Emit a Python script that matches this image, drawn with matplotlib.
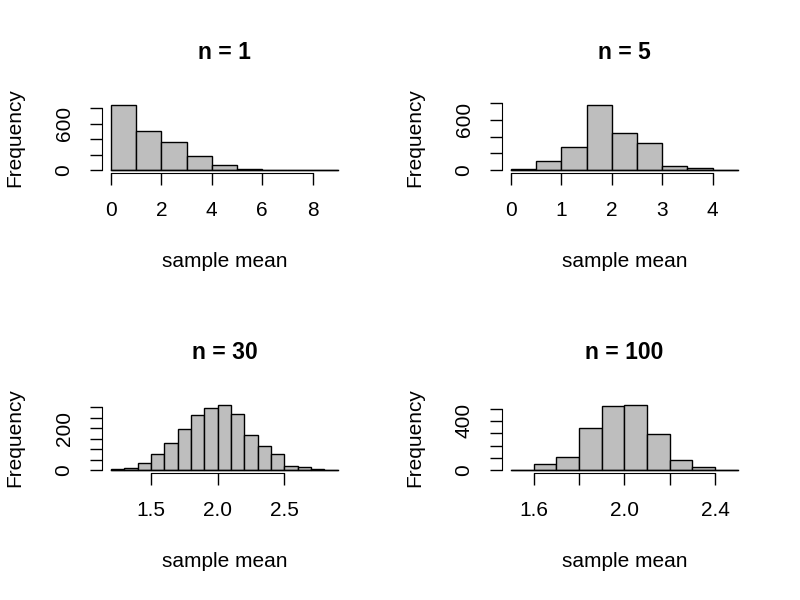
import numpy as np
import matplotlib.pyplot as plt

plt.rcParams['font.family'] = ['Liberation Sans', 'DejaVu Sans']

# bin edges and counts for each sample size
titles = ['n = 1', 'n = 5', 'n = 30', 'n = 100']

edges1 = np.arange(0, 9.01, 1.0)
counts1 = [847, 512, 366, 185, 69, 17, 8, 4, 2]

edges5 = np.arange(0, 4.51, 0.5)
counts5 = [12, 114, 276, 777, 438, 327, 51, 28, 2]

edges30 = np.round(np.arange(1.2, 2.91, 0.1), 1)
counts30 = [6, 11, 33, 79, 131, 198, 262, 297, 311, 266, 168, 117, 76, 22, 14, 5, 3]

edges100 = np.round(np.arange(1.5, 2.51, 0.1), 1)
counts100 = [5, 49, 108, 343, 524, 530, 297, 86, 30, 3]

xticks = [[0, 2, 4, 6, 8], [0, 1, 2, 3, 4], [1.5, 2.0, 2.5], [1.6, 1.8, 2.0, 2.2, 2.4]]
xlabels = [['0', '2', '4', '6', '8'], ['0', '1', '2', '3', '4'],
           ['1.5', '2.0', '2.5'], ['1.6', '', '2.0', '', '2.4']]
yticks = [[0, 200, 400, 600, 800], [0, 200, 400, 600, 800],
          [0, 50, 100, 150, 200, 250, 300], [0, 100, 200, 300, 400, 500]]
ylabels = [['0', '', '', '600', ''], ['0', '', '', '600', ''],
           ['0', '', '', '', '200', '', ''], ['0', '', '', '', '400', '']]

data = [(edges1, counts1), (edges5, counts5), (edges30, counts30), (edges100, counts100)]

fig = plt.figure(figsize=(8, 6), dpi=100)
pos = [[0.1275, 0.7117, 0.306, 0.118], [0.6275, 0.7117, 0.306, 0.118],
       [0.1275, 0.2117, 0.306, 0.118], [0.6275, 0.2117, 0.306, 0.118]]

fs = 15
for i in range(4):
    ax = fig.add_axes(pos[i])
    edges, counts = data[i]
    widths = np.diff(edges)
    ax.bar(edges[:-1], counts, width=widths, align='edge', color='#bebebe',
           edgecolor='black', linewidth=1)
    ax.plot([edges[0], edges[-1]], [0, 0], color='black', lw=1)
    rng = edges[-1] - edges[0]
    ax.set_xlim(edges[0] - 0.04 * rng, edges[-1] + 0.04 * rng)
    top = max(counts)
    ax.set_ylim(-0.04 * top, top * 1.04)
    for s in ['top', 'right']:
        ax.spines[s].set_visible(False)
    ax.spines['bottom'].set_bounds(xticks[i][0], xticks[i][-1])
    ax.spines['left'].set_bounds(yticks[i][0], yticks[i][-1])
    ax.set_xticks(xticks[i])
    ax.set_xticklabels(xlabels[i])
    ax.set_yticks(yticks[i])
    ax.set_yticklabels(ylabels[i], rotation=90, va='center')
    ax.tick_params(length=8.5, width=1, labelsize=fs)
    ax.tick_params(axis='x', pad=12)
    ax.tick_params(axis='y', pad=12)
    ax.text(0.5, 1.70, titles[i], transform=ax.transAxes, ha='center', va='center',
            fontsize=16.5, fontweight='bold')
    ax.text(0.5, -1.25, 'sample mean', transform=ax.transAxes, ha='center', va='center',
            fontsize=fs)
    ax.text(-0.355, 0.5, 'Frequency', transform=ax.transAxes, ha='center', va='center',
            rotation=90, fontsize=fs)

plt.savefig('out.png', dpi=100)
